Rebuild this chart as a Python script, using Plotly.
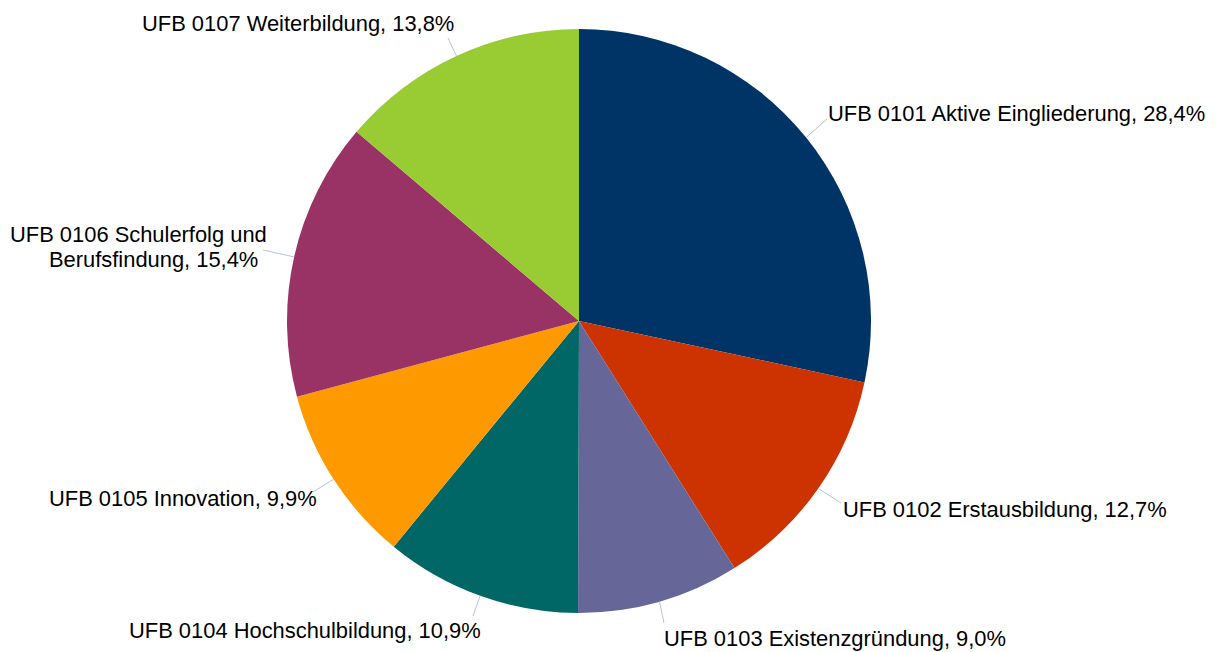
import math
import plotly.graph_objects as go

# ---- data ----
categories = [
    "UFB 0101 Aktive Eingliederung",
    "UFB 0102 Erstausbildung",
    "UFB 0103 Existenzgründung",
    "UFB 0104 Hochschulbildung",
    "UFB 0105 Innovation",
    "UFB 0106 Schulerfolg und Berufsfindung",
    "UFB 0107 Weiterbildung",
]
shares = [28.4, 12.7, 9.0, 10.9, 9.9, 15.4, 13.8]
colors = ["#003366", "#CC3300", "#666699", "#006666", "#FF9900", "#993366", "#99CC33"]

# ---- layout constants ----
W, H = 1220, 652
CX, CY, R = 579, 321, 292
FONT = dict(family="Liberation Sans, Arial, sans-serif", size=21.9, color="#000000")
LINE_COLOR = "#B7C3D6"

# label placement per slice: (line end x, line end y, text x, text y, xanchor)
label_layout = [
    (827, 119, 826, 113.5, "left"),
    (841, 503, 841, 509, "left"),
    (664, 623, 662, 638, "left"),
    (473, 616, 483, 630, "right"),
    (313, 492, 319, 498, "right"),
    (263, 250, None, None, "right"),
    (448, 38, 456, 23, "right"),
]


def px(x):
    return x / W


def py(y):
    return 1 - y / H


fig = go.Figure(
    go.Pie(
        labels=categories,
        values=shares,
        marker=dict(colors=colors, line=dict(width=0)),
        sort=False,
        direction="clockwise",
        rotation=0,
        textinfo="none",
        hoverinfo="label+value",
        domain=dict(x=[px(CX - R), px(CX + R)], y=[py(CY + R), py(CY - R)]),
        showlegend=False,
    )
)

total = sum(shares)
cum = 0.0
shapes = []
annotations = []
for i, (cat, v) in enumerate(zip(categories, shares)):
    mid = (cum + v / 2) / total * 2 * math.pi
    cum += v
    ex = CX + R * math.sin(mid)
    ey = CY - R * math.cos(mid)
    lx, ly, tx, ty, xa = label_layout[i]
    shapes.append(dict(type="line", xref="paper", yref="paper",
                       x0=px(ex), y0=py(ey), x1=px(lx), y1=py(ly),
                       line=dict(color=LINE_COLOR, width=1)))
    label = f"{cat}, {v:.1f}%".replace(".", ",")
    if tx is None:
        # two-line label
        first = "UFB 0106 Schulerfolg und"
        second = label[len(first) + 1:]
        annotations.append(dict(text=first, x=px(269), y=py(234.5), xref="paper", yref="paper",
                                xanchor="right", yanchor="middle", showarrow=False, font=FONT))
        annotations.append(dict(text=second, x=px(260), y=py(259.5), xref="paper", yref="paper",
                                xanchor="right", yanchor="middle", showarrow=False, font=FONT))
    else:
        annotations.append(dict(text=label, x=px(tx), y=py(ty), xref="paper", yref="paper",
                                xanchor=xa, yanchor="middle", showarrow=False, font=FONT))

fig.update_layout(
    width=W, height=H,
    margin=dict(l=0, r=0, t=0, b=0),
    paper_bgcolor="white", plot_bgcolor="white",
    shapes=shapes, annotations=annotations,
    font=FONT,
)

fig.write_html("out.html",
               config={"displayModeBar": False},
               post_script="document.body.style.margin='0';document.body.style.padding='0';")
